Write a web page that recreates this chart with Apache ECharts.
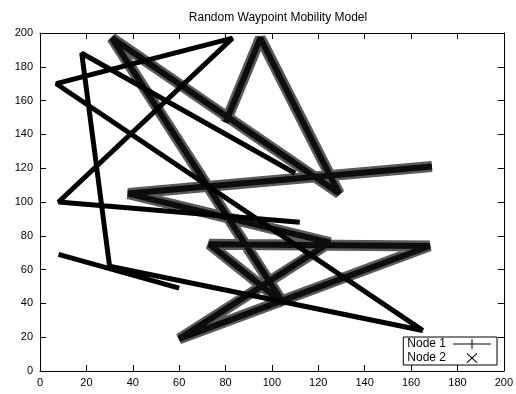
<!DOCTYPE html>
<html>
<head>
<meta charset="utf-8">
<script src="https://cdn.jsdelivr.net/npm/echarts@6/dist/echarts.min.js"></script>
<style>
html,body{margin:0;padding:0;background:#fff;}
#c{width:516px;height:394px;}
</style>
</head>
<body>
<div id="c"></div>
<script>
var titleText = 'Random Waypoint Mobility Model';
var seriesNames = ['Node 1', 'Node 2'];
var axisTicks = [0, 20, 40, 60, 80, 100, 120, 140, 160, 180, 200];

// Node 1 waypoints (null breaks the trace)
var node1X = [112, 8, 83, 7, 165, 30, 18, 110, null, 8, 60];
var node1Y = [88, 100, 197, 170, 24, 62, 188, 117, null, 69, 49];

// Node 2 waypoints
var node2X = [80, 95, 129, 31, 105, 73, 168, 60, 125, 38, 169];
var node2Y = [147, 197, 105, 197, 40, 75, 74, 19, 76, 105, 121];

function pairs(xs, ys) {
  var out = [];
  for (var i = 0; i < xs.length; i++) {
    out.push(xs[i] === null ? [null, null] : [xs[i], ys[i]]);
  }
  return out;
}
var n1 = pairs(node1X, node1Y);
var n2 = pairs(node2X, node2Y);

var chart = echarts.init(document.getElementById('c'), null, {renderer: 'canvas'});
var font = 'Liberation Sans, Arial, sans-serif';
var axMin = axisTicks[0], axMax = axisTicks[axisTicks.length - 1], axStep = axisTicks[1] - axisTicks[0];

function xAx(pos, showLabel) {
  return {
    type: 'value', position: pos, min: axMin, max: axMax, interval: axStep,
    axisLine: {show: true, onZero: false, lineStyle: {color: '#000', width: 1}},
    axisTick: {show: true, inside: true, length: 6, lineStyle: {color: '#000'}},
    axisLabel: {show: showLabel, color: '#000', fontSize: 11, fontFamily: font, margin: 6},
    splitLine: {show: false}
  };
}
function yAx(pos, showLabel) {
  return {
    type: 'value', position: pos, min: axMin, max: axMax, interval: axStep,
    axisLine: {show: true, onZero: false, lineStyle: {color: '#000', width: 1}},
    axisTick: {show: true, inside: true, length: 6, lineStyle: {color: '#000'}},
    axisLabel: {show: showLabel, color: '#000', fontSize: 11, fontFamily: font, margin: 7},
    splitLine: {show: false}
  };
}

var plusIcon = 'path://M0,4.5L38,4.5L38,5.5L0,5.5Z M18.5,0L19.5,0L19.5,10L18.5,10Z';
var crossIcon = 'path://M0,5L0.01,5L0,5.01Z M38,5L38.01,5L38,5.01Z M14.3,0L19,4.3L23.7,0L24.4,0.7L19.7,5L24.4,9.3L23.7,10L19,5.7L14.3,10L13.6,9.3L18.3,5L13.6,0.7Z';

chart.setOption({
  animation: false,
  backgroundColor: '#fff',
  title: {
    text: titleText, left: 273, top: 7, textAlign: 'center',
    textStyle: {fontSize: 12, fontWeight: 'normal', color: '#000', fontFamily: font}
  },
  grid: {left: 40, right: 11, top: 33, bottom: 23, containLabel: false},
  xAxis: [xAx('bottom', true), xAx('top', false)],
  yAxis: [yAx('left', true), yAx('right', false)],
  legend: {
    orient: 'vertical', right: 19, bottom: 29, align: 'right',
    backgroundColor: '#fff', borderColor: '#000', borderWidth: 1, borderRadius: 0,
    padding: [1, 6, 1, 4], itemGap: 2, itemWidth: 38, itemHeight: 10,
    textStyle: {fontSize: 12, color: '#000', fontFamily: font, padding: [0, 2, 0, 0]},
    data: [
      {name: seriesNames[0], icon: plusIcon, itemStyle: {color: '#000'}},
      {name: seriesNames[1], icon: crossIcon, itemStyle: {color: '#000'}}
    ]
  },
  series: [
    {
      name: seriesNames[1] + ' halo', type: 'line', data: n2, xAxisIndex: 0, yAxisIndex: 0,
      showSymbol: false, symbol: 'none', connectNulls: false, silent: true,
      lineStyle: {color: '#5a5a5a', width: 11, join: 'bevel', cap: 'butt'}, z: 2
    },
    {
      name: seriesNames[1], type: 'line', data: n2, xAxisIndex: 0, yAxisIndex: 0,
      showSymbol: false, symbol: 'none', connectNulls: false,
      itemStyle: {color: '#000'},
      lineStyle: {color: '#0d0d0d', width: 6, join: 'bevel', cap: 'butt'}, z: 3
    },
    {
      name: seriesNames[0], type: 'line', data: n1, xAxisIndex: 0, yAxisIndex: 0,
      showSymbol: false, symbol: 'none', connectNulls: false,
      itemStyle: {color: '#000'},
      lineStyle: {color: '#000', width: 5, join: 'bevel', cap: 'butt'}, z: 4
    }
  ]
});
</script>
</body>
</html>
